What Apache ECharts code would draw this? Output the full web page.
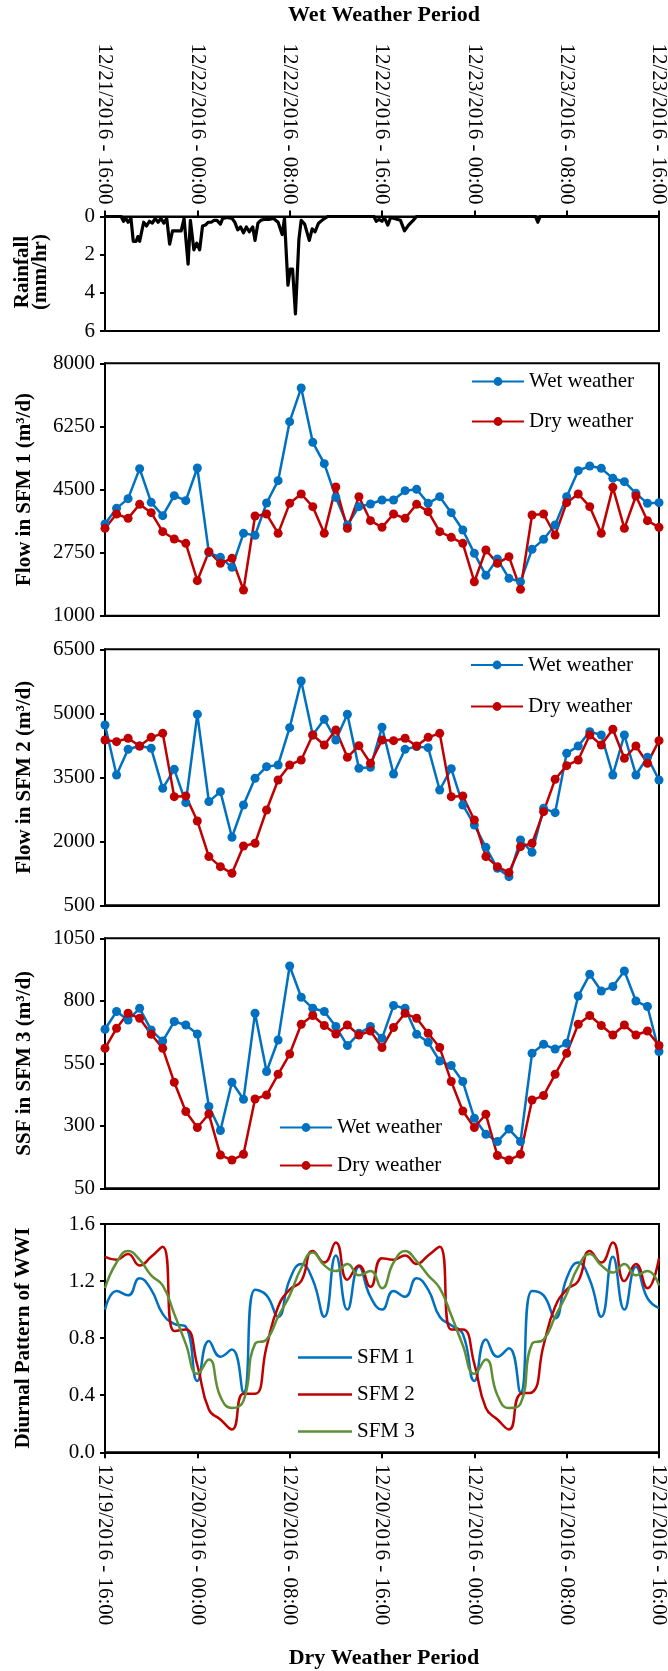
<!DOCTYPE html>
<html>
<head>
<meta charset="utf-8">
<script src="https://cdn.jsdelivr.net/npm/echarts@6/dist/echarts.min.js"></script>
<style>
  html, body { margin: 0; padding: 0; background: #fff; }
  #chart { width: 668px; height: 1671px; }
</style>
</head>
<body>
<div id="chart"></div>
<script>
// Tick labels of the shared 48-hour time axis (every 8 h)
const wetTickLabels = ['12/21/2016 - 16:00', '12/22/2016 - 00:00', '12/22/2016 - 08:00', '12/22/2016 - 16:00',
  '12/23/2016 - 00:00', '12/23/2016 - 08:00', '12/23/2016 - 16:00'];
const dryTickLabels = ['12/19/2016 - 16:00', '12/20/2016 - 00:00', '12/20/2016 - 08:00', '12/20/2016 - 16:00',
  '12/21/2016 - 00:00', '12/21/2016 - 08:00', '12/21/2016 - 16:00'];

// Hours since the start of each period (hourly readings)
const hours = [0, 1, 2, 3, 4, 5, 6, 7, 8, 9, 10, 11, 12, 13, 14, 15, 16, 17, 18, 19, 20, 21, 22, 23, 24,
  25, 26, 27, 28, 29, 30, 31, 32, 33, 34, 35, 36, 37, 38, 39, 40, 41, 42, 43, 44, 45, 46, 47, 48];

// Rainfall intensity (mm/hr) during the wet weather period
const rainHour = [0, 1.4, 1.6, 1.8, 2.0, 2.25, 2.45, 2.7, 2.85, 3.0, 3.15, 3.35, 3.6, 3.85, 4.1, 4.35, 4.6, 4.85,
  5.1, 5.35, 5.6, 5.85, 6.1, 6.35, 6.6, 6.85, 7.2, 7.4, 7.7, 7.95, 8.2, 8.45, 8.7, 8.95, 9.2, 9.45, 9.7, 10.0,
  10.2, 10.6, 11.0, 11.25, 11.5, 11.75, 12.0, 12.25, 12.5, 12.8, 13.0, 13.25, 13.5, 13.8, 14.2, 14.6, 15.0,
  15.35, 15.55, 15.85, 16.05, 16.25, 16.5, 16.8, 17.0, 17.3, 17.7, 17.95, 18.2, 18.5, 18.9, 19.3, 23.3, 23.5,
  23.75, 24.0, 24.2, 24.5, 24.75, 25.6, 25.95, 26.3, 26.7, 27.0, 37.3, 37.5, 37.7, 48];
const rainRate = [0, 0, 0.25, 0.1, 0.3, 0.1, 1.3, 1.3, 1.05, 1.3, 1.3, 0.3, 0.5, 0.25, 0.35, 0.1, 0.3, 0.1,
  0.35, 0.1, 1.45, 0.75, 0.75, 0.75, 0.75, 0.1, 2.5, 0.2, 1.75, 1.4, 1.75, 0.5, 0.45, 0.3, 0.3, 0.2, 0.2, 0.4,
  0.1, 0.05, 0.1, 0.3, 0.7, 0.55, 0.85, 0.55, 0.8, 0.55, 1.25, 0.35, 0.2, 0.15, 0.15, 0.1, 0.3,
  0.95, 0.1, 3.6, 2.75, 2.75, 5.1, 1.2, 0.2, 0.4, 1.25, 0.65, 0.8, 0.35, 0.15, 0, 0, 0.25,
  0.15, 0.25, 0.05, 0.45, 0.05, 0.2, 0.75, 0.45, 0.2, 0, 0, 0.3, 0, 0];

// Flow in SFM 1 (m3/d)
const sfm1Wet = [3543, 3977, 4246, 5078, 4144, 3774, 4329, 4190, 5096, 2748, 2618, 2341, 3284, 3228, 4125, 4745,
  6382, 7316, 5808, 5217, 4280, 3515, 4024, 4098, 4209, 4209, 4468, 4505, 4116, 4301, 3857, 3377, 2729, 2119,
  2572, 2036, 1943, 2840, 3118, 3515, 4301, 5022, 5152, 5087, 4810, 4717, 4394, 4116, 4135];
const sfm1Dry = [3423, 3820, 3700, 4089, 3857, 3330, 3127, 3007, 1971, 2776, 2452, 2590, 1712, 3765, 3820, 3284,
  4116, 4375, 4024, 3284, 4570, 3423, 4301, 3635, 3450, 3820, 3700, 4089, 3885, 3330, 3173, 3007, 1943, 2822,
  2452, 2637, 1731, 3793, 3820, 3238, 4135, 4375, 4024, 3284, 4560, 3423, 4320, 3635, 3450];

// Flow in SFM 2 (m3/d)
const sfm2Wet = [4727, 3555, 4156, 4234, 4180, 3242, 3687, 2906, 4977, 2930, 3164, 2094, 2852, 3477, 3750, 3789,
  4664, 5758, 4492, 4859, 4375, 4977, 3711, 3734, 4672, 3578, 4156, 4219, 4195, 3203, 3703, 2852, 2383, 1859,
  1367, 1172, 2031, 1742, 2773, 2672, 4062, 4234, 4570, 4492, 3555, 4492, 3555, 3969, 3437];
const sfm2Dry = [4375, 4336, 4414, 4234, 4437, 4531, 3047, 3062, 2477, 1641, 1406, 1250, 1891, 1953, 2734, 3437,
  3789, 3906, 4492, 4258, 4609, 3969, 4242, 3828, 4375, 4359, 4414, 4234, 4437, 4531, 3047, 3062, 2500, 1641,
  1406, 1266, 1875, 1953, 2695, 3453, 3773, 3906, 4492, 4258, 4625, 3945, 4234, 3828, 4359];

// Sanitary sewer flow in SFM 3 (m3/d)
const sfm3Wet = [686, 757, 723, 770, 683, 639, 717, 703, 667, 377, 281, 474, 406, 750, 517, 643, 939, 814, 770,
  757, 697, 621, 670, 697, 650, 781, 770, 666, 634, 559, 541, 477, 330, 266, 237, 287, 237, 590, 626, 607, 630,
  819, 906, 839, 857, 919, 799, 777, 597];
const sfm3Dry = [610, 690, 750, 730, 666, 610, 474, 357, 293, 347, 183, 163, 186, 407, 423, 506, 587, 706, 741,
  701, 667, 703, 663, 679, 613, 693, 750, 730, 670, 613, 477, 359, 293, 346, 181, 163, 186, 403, 421, 506, 590,
  706, 741, 701, 663, 703, 663, 679, 621];

// Diurnal pattern of wet weather infiltration
const wwiSfm1 = [1.00, 1.13, 1.10, 1.22, 1.14, 0.97, 0.90, 0.88, 0.50, 0.78, 0.67, 0.72, 0.42, 1.14, 1.10, 0.95,
  1.21, 1.32, 1.21, 0.95, 1.38, 1.00, 1.30, 1.09, 1.00, 1.13, 1.09, 1.22, 1.14, 0.95, 0.89, 0.83, 0.50, 0.79,
  0.67, 0.73, 0.42, 1.13, 1.10, 0.94, 1.22, 1.33, 1.21, 0.95, 1.37, 1.00, 1.30, 1.08, 1.01];
const wwiSfm2 = [1.37, 1.35, 1.39, 1.31, 1.37, 1.44, 0.85, 0.86, 0.61, 0.30, 0.23, 0.16, 0.41, 0.41, 0.74, 1.02,
  1.14, 1.20, 1.41, 1.33, 1.47, 1.21, 1.31, 1.16, 1.36, 1.35, 1.38, 1.32, 1.38, 1.44, 0.86, 0.86, 0.62, 0.31,
  0.23, 0.16, 0.41, 0.42, 0.75, 1.02, 1.14, 1.20, 1.41, 1.33, 1.47, 1.20, 1.32, 1.15, 1.36];
const wwiSfm3 = [1.15, 1.33, 1.41, 1.35, 1.24, 1.17, 0.97, 0.76, 0.55, 0.65, 0.39, 0.31, 0.36, 0.76, 0.79, 0.95,
  1.10, 1.29, 1.40, 1.31, 1.27, 1.32, 1.24, 1.27, 1.15, 1.33, 1.41, 1.34, 1.24, 1.15, 0.96, 0.75, 0.55, 0.65,
  0.40, 0.31, 0.34, 0.76, 0.79, 0.95, 1.11, 1.30, 1.39, 1.31, 1.26, 1.32, 1.24, 1.27, 1.17];

// Y-axis tick values per panel
const rainTicks = [0, 2, 4, 6];
const sfm1Ticks = [1000, 2750, 4500, 6250, 8000];
const sfm2Ticks = [500, 2000, 3500, 5000, 6500];
const sfm3Ticks = [50, 300, 550, 800, 1050];
const wwiTicks = [0, 0.4, 0.8, 1.2, 1.6];

const FONT = '"Liberation Serif", "Times New Roman", serif';
const BLUE = '#0070C0', RED = '#C00000', GREEN = '#5E8F36';

const pairs = (xs, ys) => xs.map((x, i) => [x, ys[i]]);

const gridRects = [
  { top: 216.5, height: 114.5 },
  { top: 363.3, height: 252.4 },
  { top: 649.3, height: 256 },
  { top: 938.3, height: 250 },
  { top: 1224, height: 228.3 }
];
const grid = gridRects.map(r => ({
  left: 105, width: 554, top: r.top, height: r.height,
  show: true, borderColor: '#000', borderWidth: 2, backgroundColor: 'transparent',
  outerBoundsMode: 'none'
}));

const tickLabelStyle = { color: '#000', fontFamily: FONT, fontSize: 21 };

const xAxis = gridRects.map((r, i) => ({
  gridIndex: i, type: 'value', min: 0, max: 48, interval: 8,
  position: i === 0 ? 'top' : 'bottom',
  axisLine: { show: true, onZero: false, lineStyle: { color: '#000', width: 2 } },
  axisTick: { show: i === 0 || i === 4, length: 6, lineStyle: { color: '#000', width: 2 } },
  splitLine: { show: false },
  axisLabel: i === 0 ? Object.assign({ rotate: 90, margin: 12, showMinLabel: true, showMaxLabel: true,
      formatter: v => wetTickLabels[Math.round(v / 8)] }, tickLabelStyle)
    : i === 4 ? Object.assign({ rotate: -90, margin: 12, showMinLabel: true, showMaxLabel: true,
      formatter: v => dryTickLabels[Math.round(v / 8)] }, tickLabelStyle)
    : { show: false }
}));

function yAx(i, ticks, fmt) {
  const step = ticks[1] - ticks[0];
  return {
    gridIndex: i, type: 'value', min: ticks[0], max: ticks[ticks.length - 1], interval: step,
    axisLine: { show: true, onZero: false, lineStyle: { color: '#000', width: 2 } },
    axisTick: { show: true, length: 5, customValues: ticks, lineStyle: { color: '#000', width: 2 } },
    splitLine: { show: false },
    axisLabel: Object.assign({ margin: 10, showMinLabel: true, showMaxLabel: true, customValues: ticks,
      formatter: fmt || (v => String(v)) }, tickLabelStyle)
  };
}

const yAxis = [
  Object.assign(yAx(0, rainTicks), { inverse: true }),
  yAx(1, sfm1Ticks),
  yAx(2, sfm2Ticks),
  yAx(3, sfm3Ticks),
  yAx(4, wwiTicks, v => v.toFixed(1))
];

function markerSeries(name, color, axis, values) {
  return {
    name, type: 'line', xAxisIndex: axis, yAxisIndex: axis,
    data: pairs(hours, values),
    symbol: 'circle', symbolSize: 9, showSymbol: true,
    lineStyle: { color, width: 2.5 },
    itemStyle: { color, borderWidth: 0 },
    emphasis: { disabled: true }
  };
}
function curveSeries(name, color, values) {
  return {
    name, type: 'line', xAxisIndex: 4, yAxisIndex: 4,
    data: pairs(hours, values), smooth: 0.5,
    symbol: 'none', showSymbol: false,
    lineStyle: { color, width: 2.5 },
    itemStyle: { color },
    emphasis: { disabled: true }
  };
}

const series = [
  {
    name: 'Rainfall', type: 'line', xAxisIndex: 0, yAxisIndex: 0,
    data: pairs(rainHour, rainRate), symbol: 'none', showSymbol: false,
    lineStyle: { color: '#000', width: 3.2, join: 'round' }, itemStyle: { color: '#000' },
    emphasis: { disabled: true }
  },
  markerSeries('Wet weather', BLUE, 1, sfm1Wet),
  markerSeries('Dry weather', RED, 1, sfm1Dry),
  markerSeries('Wet weather', BLUE, 2, sfm2Wet),
  markerSeries('Dry weather', RED, 2, sfm2Dry),
  markerSeries('Wet weather', BLUE, 3, sfm3Wet),
  markerSeries('Dry weather', RED, 3, sfm3Dry),
  curveSeries('SFM 1', BLUE, wwiSfm1),
  curveSeries('SFM 2', RED, wwiSfm2),
  curveSeries('SFM 3', GREEN, wwiSfm3)
];

const legendText = { color: '#000', fontFamily: FONT, fontSize: 21 };
function flowLegend(left, top, gap) {
  return {
    data: ['Wet weather', 'Dry weather'], orient: 'vertical', left, top, itemGap: gap,
    itemWidth: 52, itemHeight: 11, padding: 0, selectedMode: false, textStyle: legendText
  };
}
const legend = [
  flowLegend(471, 371, 19),
  flowLegend(470, 654.5, 20.5),
  flowLegend(279, 1117, 17),
  {
    data: ['SFM 1', 'SFM 2', 'SFM 3'], orient: 'vertical', left: 298, top: 1347, itemGap: 16,
    icon: 'rect', itemWidth: 54, itemHeight: 2.5, padding: 0, selectedMode: false, textStyle: legendText
  }
];

function label(text, x, y, rotate, size) {
  return {
    type: 'text', x, y, rotation: rotate ? Math.PI / 2 : 0, silent: true,
    style: {
      text, fill: '#000', align: 'center', verticalAlign: 'middle',
      font: 'bold ' + (size || 21) + 'px ' + FONT
    }
  };
}
const graphic = [
  label('Wet Weather Period', 384, 15, false, 22),
  label('Dry Weather Period', 384, 1658, false, 22),
  label('Rainfall', 23, 272, true),
  label('(mm/hr)', 41, 272, true),
  label('Flow in SFM 1 (m\u00b3/d)', 25, 489.5, true),
  label('Flow in SFM 2 (m\u00b3/d)', 25, 777.3, true),
  label('SSF in SFM 3 (m\u00b3/d)', 25, 1063.3, true),
  label('Diurnal Pattern of WWI', 24, 1338, true)
];

const chart = echarts.init(document.getElementById('chart'), null, { renderer: 'canvas' });
chart.setOption({
  animation: false,
  backgroundColor: '#fff',
  textStyle: { fontFamily: FONT },
  grid, xAxis, yAxis, series, legend, graphic
});
</script>
</body>
</html>
